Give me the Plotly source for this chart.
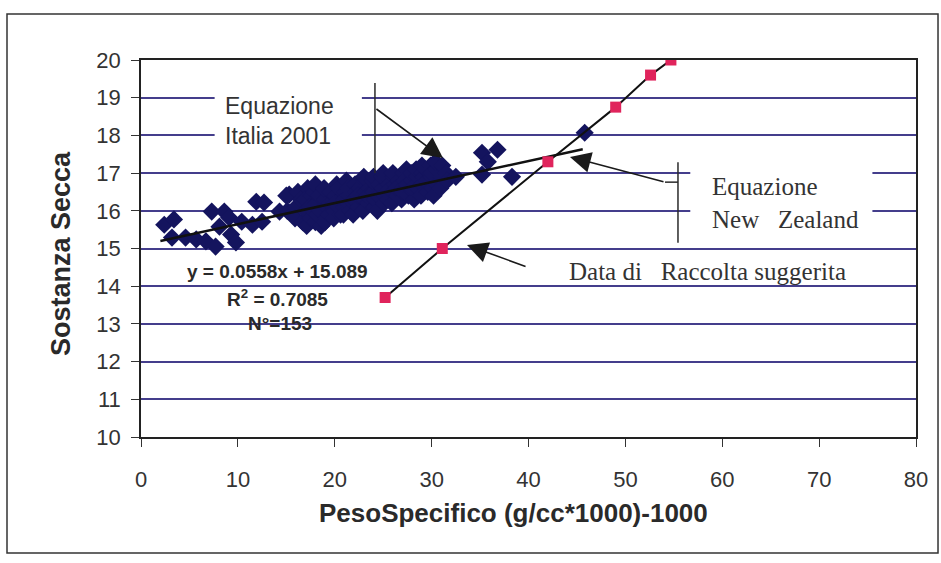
import plotly.graph_objects as go

# Campioni 2001: peso specifico (g/cc*1000)-1000 e sostanza secca (%)
ps_x = [
    2.4, 3.4, 3.2, 4.6, 5.7, 6.7, 7.7, 7.3, 8.6, 9.1, 8.1,
    9.3, 9.8, 10.4, 11.5, 11.9, 12.7, 12.5, 14.3, 15.3, 16.6, 16.8,
    15.1, 15.0, 15.6, 16.0, 16.2, 15.9, 16.5, 16.7,
    17.0, 17.2, 17.1, 16.9, 17.5, 17.6, 17.4,
    18.0, 18.1, 17.9, 18.2, 18.0, 18.5, 18.6, 18.4,
    19.0, 19.1, 18.9, 19.2, 19.0, 19.5, 19.6, 19.4,
    20.0, 20.1, 19.9, 20.2, 20.0, 20.5, 20.6, 20.4,
    21.0, 21.1, 20.9, 21.2, 21.0, 21.5, 21.6, 21.4,
    22.0, 22.1, 21.9, 22.2, 22.0, 22.5, 22.6, 22.4,
    23.0, 23.1, 22.9, 23.2, 23.0, 23.5, 23.6, 23.4,
    24.0, 24.1, 23.9, 24.2, 24.0, 24.5, 24.6, 24.4,
    25.0, 25.1, 24.9, 25.2, 25.0, 25.5, 25.6, 25.4,
    26.0, 26.1, 25.9, 26.2, 26.0, 26.5, 26.6, 26.4,
    27.0, 27.1, 26.9, 27.2, 27.0, 27.5, 27.6, 27.4,
    28.0, 28.1, 27.9, 28.2, 28.0, 28.5, 28.6, 28.4,
    29.0, 29.1, 28.9, 29.2, 29.0, 29.5, 29.6, 29.4,
    30.0, 30.1, 29.9, 30.2, 30.0, 30.5, 30.6, 30.4,
    31.0, 31.1, 30.9, 31.5, 31.6,
    32.5, 35.2, 36.8, 35.2, 38.3, 45.8, 35.8,
]
ss_y = [
    15.63, 15.77, 15.29, 15.29, 15.24, 15.19, 15.05, 15.98, 15.98, 15.82, 15.58,
    15.37, 15.16, 15.71, 15.63, 16.24, 16.22, 15.71, 15.98, 16.43, 16.22, 15.69,
    16.0, 16.4, 15.9, 16.1, 16.5, 15.8, 16.3, 15.7,
    16.0, 16.6, 15.6, 16.3, 15.8, 16.4, 16.1,
    15.7, 16.2, 16.5, 15.9, 16.7, 16.0, 15.6, 16.4,
    16.3, 15.8, 16.6, 16.1, 15.7, 16.2, 16.5, 15.9,
    16.0, 16.4, 15.8, 16.7, 16.2, 16.3, 15.9, 16.6,
    16.1, 16.5, 15.9, 16.8, 16.3, 16.4, 16.0, 16.6,
    16.2, 16.7, 15.9, 16.5, 16.3, 16.1, 16.6, 16.4,
    16.3, 16.8, 16.0, 16.5, 16.9, 16.2, 16.6, 16.4,
    16.5, 16.1, 16.8, 16.3, 16.9, 16.4, 16.7, 16.0,
    16.6, 16.2, 16.9, 16.4, 17.0, 16.3, 16.7, 16.5,
    16.5, 16.9, 16.2, 16.7, 17.0, 16.4, 16.8, 16.6,
    16.6, 17.0, 16.3, 16.8, 16.5, 16.7, 16.4, 17.1,
    16.8, 16.5, 17.0, 16.3, 16.6, 16.9, 16.6, 17.1,
    16.7, 17.0, 16.4, 16.9, 17.2, 16.8, 16.5, 17.1,
    16.9, 16.6, 17.2, 16.4, 17.0, 17.1, 16.7, 17.3,
    16.9, 17.2, 16.6, 17.0, 16.8,
    16.9, 17.54, 17.62, 16.96, 16.9, 18.07, 17.3,
]

# Data di raccolta suggerita (equazione New Zealand)
nz_x = [25.2, 31.1, 42.0, 49.0, 52.6, 54.7]
nz_y = [13.7, 15.0, 17.3, 18.75, 19.6, 20.0]

# Regressione lineare Italia 2001
slope = 0.0558
intercept = 15.089
r_squared = 0.7085
n_samples = 153
fit_x = [2.0, 45.6]
fit_y = [intercept + slope * v for v in fit_x]

x_ticks = [0, 10, 20, 30, 40, 50, 60, 70, 80]
y_ticks = [10, 11, 12, 13, 14, 15, 16, 17, 18, 19, 20]

SANS = "Liberation Sans, Arial, sans-serif"
SERIF = "Liberation Serif, Times New Roman, serif"
INK = "#2a2a2a"

fig = go.Figure()

fig.add_trace(go.Scatter(
    x=ps_x, y=ss_y, mode="markers",
    marker=dict(symbol="diamond", size=14, color="#14145e", line=dict(width=0)),
    showlegend=False, hoverinfo="x+y",
))
fig.add_trace(go.Scatter(
    x=fit_x, y=fit_y, mode="lines",
    line=dict(color="#111111", width=2.5),
    showlegend=False, hoverinfo="skip",
))
fig.add_trace(go.Scatter(
    x=nz_x, y=nz_y, mode="lines+markers",
    line=dict(color="#111111", width=2),
    marker=dict(symbol="square", size=11, color="#e0245c", line=dict(width=0)),
    showlegend=False, hoverinfo="x+y",
))

shapes = [
    # cornice esterna
    dict(type="rect", xref="paper", yref="paper",
         x0=-0.1729, x1=1.0284, y0=-0.3077, y1=1.122,
         line=dict(color="#333333", width=1.5)),
    # sfondi bianchi delle didascalie
    dict(type="rect", xref="x", yref="y", x0=7.6, x1=22.8, y0=17.3, y1=19.5,
         fillcolor="white", line=dict(width=0), layer="between"),
    dict(type="rect", xref="x", yref="y", x0=56.7, x1=75.5, y0=15.35, y1=17.35,
         fillcolor="white", line=dict(width=0), layer="between"),
    # richiamo "Equazione Italia 2001"
    dict(type="line", xref="x", yref="y", x0=24.15, x1=24.15, y0=19.39, y1=17.0,
         line=dict(color=INK, width=1.5)),
    # richiamo "Equazione New Zealand"
    dict(type="line", xref="x", yref="y", x0=55.43, x1=55.43, y0=17.29, y1=15.15,
         line=dict(color=INK, width=1.5)),
    dict(type="line", xref="x", yref="y", x0=54.09, x1=55.43, y0=16.76, y1=16.76,
         line=dict(color=INK, width=1.5)),
]

def arrow(x, y, ax, ay):
    return dict(x=x, y=y, ax=ax, ay=ay, xref="x", yref="y", axref="x", ayref="y",
                text="", showarrow=True, arrowhead=2, arrowsize=2.6,
                arrowwidth=1.6, arrowcolor="#1a1a1a", standoff=0)

annotations = [
    dict(x=8.46, y=18.38, xref="x", yref="y", xanchor="left", yanchor="middle",
         align="left", showarrow=False, text="Equazione<br>Italia 2001",
         font=dict(family=SANS, size=23, color="#333333")),
    dict(x=58.74, y=16.21, xref="x", yref="y", xanchor="left", yanchor="middle",
         align="left", showarrow=False, text="Equazione<br>New&nbsp;&nbsp; Zealand",
         font=dict(family=SERIF, size=25, color="#333333")),
    dict(x=43.97, y=14.38, xref="x", yref="y", xanchor="left", yanchor="middle",
         showarrow=False, text="Data di&nbsp;&nbsp; Raccolta suggerita",
         font=dict(family=SERIF, size=25, color="#333333")),
    dict(x=14.14, y=14.38, xref="x", yref="y", xanchor="center", yanchor="middle",
         showarrow=False, text=f"y = {slope}x + {intercept}",
         font=dict(family=SANS, size=19, color=INK, weight="bold")),
    dict(x=14.14, y=13.69, xref="x", yref="y", xanchor="center", yanchor="middle",
         showarrow=False, text=f"R<sup>2</sup> = {r_squared}",
         font=dict(family=SANS, size=19, color=INK, weight="bold")),
    dict(x=14.3, y=13.02, xref="x", yref="y", xanchor="center", yanchor="middle",
         showarrow=False, text=f"N°={n_samples}",
         font=dict(family=SANS, size=19, color=INK, weight="bold")),
    # titoli degli assi
    dict(x=0.48, y=-0.2016, xref="paper", yref="paper", xanchor="center",
         yanchor="middle", showarrow=False, text="PesoSpecifico (g/cc*1000)-1000",
         font=dict(family=SANS, size=26, color=INK, weight="bold")),
    dict(x=-0.1032, y=0.4854, xref="paper", yref="paper", xanchor="center",
         yanchor="middle", showarrow=False, text="Sostanza Secca", textangle=-90,
         font=dict(family=SANS, size=27, color=INK, weight="bold")),
    arrow(31.17, 17.40, 24.15, 18.73),
    arrow(44.28, 17.43, 54.09, 16.76),
    arrow(33.65, 15.09, 39.85, 14.51),
]

fig.update_layout(
    width=941, height=563,
    margin=dict(l=141, r=25, t=60, b=126),
    paper_bgcolor="white", plot_bgcolor="white",
    shapes=shapes, annotations=annotations,
    xaxis=dict(
        range=[0, 80], tickvals=x_ticks, showgrid=False, zeroline=False,
        showline=True, linecolor="#222222", linewidth=1.5, mirror=True,
        ticks="outside", ticklen=8, tickwidth=1, tickcolor="#333333",
        ticklabelstandoff=14,
        tickfont=dict(family=SANS, size=22, color="#333333"),
    ),
    yaxis=dict(
        range=[10, 20], tickvals=y_ticks, showgrid=True,
        gridcolor="#443e8c", gridwidth=1.5, zeroline=False,
        showline=True, linecolor="#222222", linewidth=1.5, mirror=True,
        ticks="outside", ticklen=8, tickwidth=1, tickcolor="#333333",
        ticklabelstandoff=6,
        tickfont=dict(family=SANS, size=22, color="#333333"),
    ),
)

fig.write_html("out.html")
